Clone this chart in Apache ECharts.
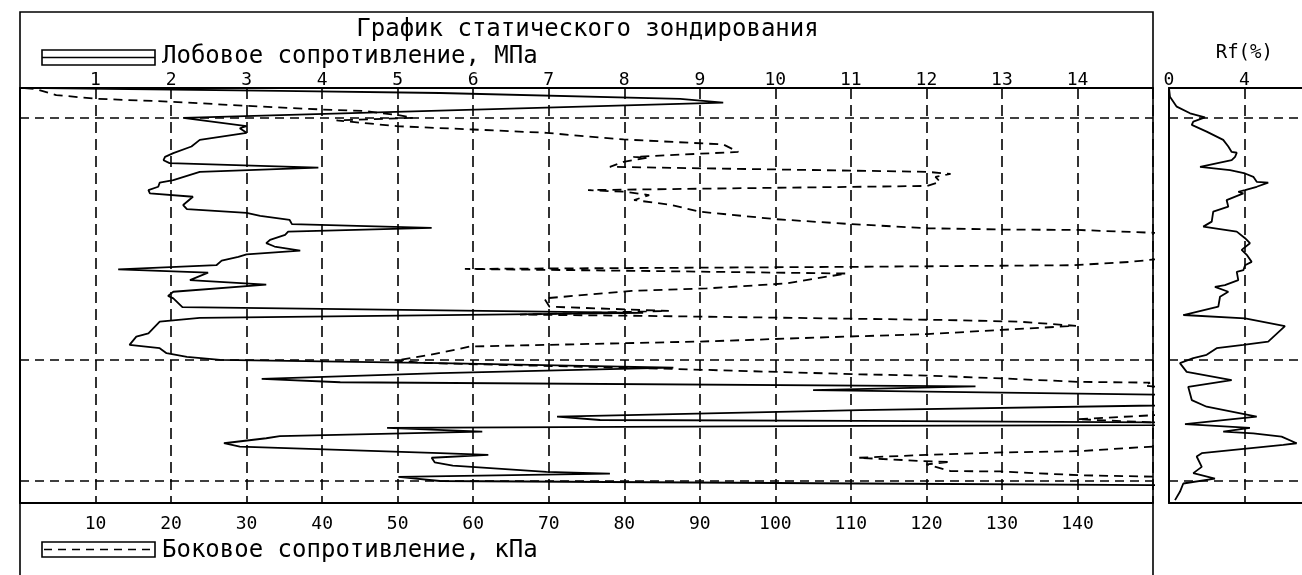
<!DOCTYPE html>
<html>
<head>
<meta charset="utf-8">
<title>График статического зондирования</title>
<script src="https://cdn.jsdelivr.net/npm/echarts@6/dist/echarts.min.js"></script>
<style>
  html, body { margin: 0; padding: 0; background: #fff; }
  #chart { width: 1302px; height: 575px; }
</style>
</head>
<body>
<div id="chart"></div>
<script>
// Cone resistance qc (MPa) against depth (m)
const qcDepth = [0.00, 0.07, 0.12, 0.26, 0.35, 0.72, 0.92, 0.97, 1.08, 1.25, 1.41, 1.57, 1.66, 1.74, 1.81, 1.92,
  2.02, 2.22, 2.28, 2.38, 2.46, 2.54, 2.62, 2.82, 2.92, 3.01, 3.08, 3.18, 3.28, 3.37, 3.46, 3.54, 3.66, 3.74,
  3.82, 3.92, 4.01, 4.07, 4.16, 4.27, 4.37, 4.45, 4.63, 4.74, 4.91, 5.01, 5.07, 5.28, 5.42, 5.54, 5.63, 5.91,
  5.99, 6.19, 6.27, 6.39, 6.48, 6.55, 6.63, 6.74, 6.87, 7.01, 7.09, 7.19, 7.28, 7.51, 7.76, 7.92, 8.00, 8.02,
  8.10, 8.14, 8.19, 8.28, 8.39, 8.44, 8.56, 8.64, 8.80, 8.84, 8.91, 9.02, 9.10, 9.25, 9.29, 9.37, 9.47, 9.53,
  9.57, 9.93];
const qcMPa = [0.3, 3.44, 5.56, 8.74, 9.31, 2.16, 3.00, 2.91, 3.00, 2.38, 2.27, 2.03, 1.92, 1.90, 1.98, 3.95,
  2.38, 2.03, 1.85, 1.83, 1.70, 1.72, 2.29, 2.16, 2.21, 3.00, 3.18, 3.57, 3.60, 5.45, 3.55, 3.51, 3.31, 3.26,
  3.37, 3.71, 3.00, 2.89, 2.67, 2.60, 1.30, 2.49, 2.25, 3.26, 2.03, 1.96, 2.03, 2.15, 8.25, 2.38, 1.85, 1.70,
  1.54, 1.45, 1.85, 1.94, 2.21, 2.65, 5.56, 8.65, 5.56, 3.20, 4.24, 12.65, 10.50, 20.0, 11.12, 7.11, 7.68, 11.12,
  20.0, 11.12, 4.86, 6.12, 3.44, 3.26, 2.70, 2.91, 5.56, 6.20, 5.45, 5.49, 5.73, 6.97, 7.81, 5.01, 5.56, 11.12,
  15.0, 24.0];

// Sleeve friction fs (kPa) against depth (m)
const fsDepth = [0.00, 0.03, 0.17, 0.26, 0.33, 0.43, 0.53, 0.55, 0.66, 0.72, 0.78, 0.92, 1.00, 1.08, 1.14, 1.24,
  1.36, 1.54, 1.66, 1.68, 1.78, 1.90, 2.02, 2.07, 2.14, 2.26, 2.36, 2.46, 2.50, 2.58, 2.70, 2.82, 2.98, 3.16,
  3.28, 3.38, 3.41, 3.42, 3.66, 4.19, 4.27, 4.31, 4.36, 4.41, 4.47, 4.71, 4.83, 4.89, 5.07, 5.27, 5.37, 5.46,
  5.49, 5.54, 5.59, 5.63, 5.73, 5.83, 5.93, 5.99, 6.11, 6.15, 6.23, 6.31, 6.43, 6.57, 6.63, 6.77, 6.90, 6.93,
  7.00, 7.08, 7.10, 7.17, 7.65, 7.98, 8.30, 8.75, 8.78, 8.84, 8.91, 8.99, 9.01, 9.07, 9.23, 9.24, 9.33, 9.37,
  9.93];
const fsKPa = [0.6, 2.2, 4.8, 10.1, 20.0, 30.0, 41.4, 45.4, 50.3, 52.0, 41.9, 49.9, 60.0, 69.7, 73.3, 79.9,
  93.1, 95.1, 81.2, 83.0, 79.9, 78.1, 120.1, 123.2, 121.2, 121.8, 120.1, 75.2, 80.0, 83.3, 81.3, 86.3, 90.0, 100.0,
  110.1, 120.1, 130.0, 140.0, 175, 147.0, 139.4, 109.5, 58.9, 83.4, 109.4, 101.4, 90.9, 81.0, 69.4, 70.1, 85.9, 66.2,
  82.1, 102.6, 122.4, 132.2, 139.8, 129.9, 120.1, 109.5, 90.0, 79.9, 59.5, 57.6, 54.3, 49.6, 54.2, 86.5, 111.2, 120.1,
  130.2, 140.1, 149.6, 148.9, 175, 140.0, 180, 140.2, 130.2, 120.1, 111.0, 119.6, 123.2, 120.0, 123.2, 129.8, 140.1, 151,
  175];

// Friction ratio Rf (%) against depth (m)
const rfDepth = [0.00, 0.21, 0.45, 0.61, 0.71, 0.81, 0.89, 1.05, 1.25, 1.41, 1.54, 1.56, 1.66, 1.74, 1.90, 1.98,
  2.06, 2.14, 2.26, 2.28, 2.38, 2.46, 2.50, 2.54, 2.70, 2.86, 2.98, 3.22, 3.34, 3.46, 3.62, 3.74, 3.90, 4.02,
  4.19, 4.27, 4.39, 4.43, 4.63, 4.75, 4.79, 4.91, 5.03, 5.27, 5.47, 5.55, 5.74, 6.11, 6.19, 6.27, 6.43, 6.51,
  6.63, 6.84, 7.04, 7.20, 7.52, 7.68, 7.92, 8.10, 8.19, 8.28, 8.32, 8.40, 8.56, 8.60, 8.80, 8.88, 9.13, 9.28,
  9.41, 9.53, 9.73, 9.93];
const rfPercent = [0.00, 0.05, 0.41, 1.12, 1.91, 1.29, 1.21, 2.00, 2.88, 3.15, 3.33, 3.60, 3.51, 3.33, 1.65, 3.24,
  4.04, 4.48, 4.66, 5.27, 4.66, 4.04, 3.68, 3.95, 3.06, 3.15, 2.35, 2.27, 1.82, 3.60, 4.04, 4.30, 3.86, 4.13,
  4.39, 4.04, 3.95, 3.60, 3.68, 2.97, 2.44, 3.15, 2.71, 2.62, 0.76, 4.04, 6.16, 5.27, 3.95, 2.53, 2.00, 1.29,
  0.58, 0.94, 3.33, 1.02, 1.21, 2.00, 4.66, 0.85, 4.30, 2.88, 4.48, 5.98, 6.78, 6.07, 1.74, 1.47, 1.74, 1.29,
  2.44, 0.76, 0.58, 0.32];

// Layer boundaries (m)
const layerBounds = [0.72, 6.55, 9.47];

// Tick labels
const qcTicks = [1, 2, 3, 4, 5, 6, 7, 8, 9, 10, 11, 12, 13, 14];
const fsTicks = [10, 20, 30, 40, 50, 60, 70, 80, 90, 100, 110, 120, 130, 140];
const rfTicks = [0, 4];

const titleText = 'График статического зондирования';
const qcLabel = 'Лобовое сопротивление, МПа';
const fsLabel = 'Боковое сопротивление, кПа';
const rfLabel = 'Rf(%)';

const INK = '#000';
const FONT = '"DejaVu Sans Mono", monospace';
const toPairs = (depths, values) => values.map((v, i) => [v, depths[i]]);

const hiddenDepthAxis = (gridIndex) => ({
  gridIndex, type: 'value', inverse: true, min: 0, max: 10,
  axisLine: { show: true, onZero: false, lineStyle: { color: INK, width: 2 } },
  axisTick: { show: false }, axisLabel: { show: false }, splitLine: { show: false }
});

const tickLabel = (list, margin) => ({
  show: true, margin, color: INK, fontFamily: FONT, fontSize: 18,
  verticalAlign: 'middle',
  formatter: (v) => (list.includes(v) ? String(v) : '')
});

const boundaryLines = {
  silent: true,
  symbol: ['none', 'none'],
  label: { show: false },
  emphasis: { disabled: true },
  lineStyle: { color: INK, width: 1.6, type: [9, 6] },
  data: layerBounds.map((d) => ({ yAxis: d }))
};

const chart = echarts.init(document.getElementById('chart'), null, { renderer: 'canvas' });

chart.setOption({
  animation: false,
  backgroundColor: '#fff',
  grid: [
    { left: 20, top: 88, width: 1133, height: 415, outerBoundsMode: 'none', containLabel: false },
    // the friction-ratio panel runs on past the right edge of the page
    { left: 1169, top: 88, width: 150.6, height: 415, outerBoundsMode: 'none', containLabel: false }
  ],
  xAxis: [
    {
      gridIndex: 0, type: 'value', position: 'top', min: 0, max: 15, interval: 1,
      axisLine: { show: true, onZero: false, lineStyle: { color: INK, width: 2 } },
      axisTick: { show: false },
      axisLabel: tickLabel(qcTicks, 8),
      splitLine: { show: true, lineStyle: { color: INK, width: 1.6, type: [11, 6] } }
    },
    {
      gridIndex: 0, type: 'value', position: 'bottom', min: 0, max: 150, interval: 10,
      axisLine: { show: true, onZero: false, lineStyle: { color: INK, width: 2 } },
      axisTick: { show: false },
      axisLabel: tickLabel(fsTicks, 21),
      splitLine: { show: false }
    },
    {
      gridIndex: 1, type: 'value', position: 'top', min: 0, max: 8, interval: 4,
      name: rfLabel, nameLocation: 'middle', nameGap: 35,
      nameTextStyle: { color: INK, fontFamily: FONT, fontSize: 19, verticalAlign: 'middle' },
      axisLine: { show: true, onZero: false, lineStyle: { color: INK, width: 2 } },
      axisTick: { show: false },
      axisLabel: tickLabel(rfTicks, 8),
      splitLine: { show: true, lineStyle: { color: INK, width: 1.6, type: [11, 6] } }
    },
    {
      gridIndex: 1, type: 'value', position: 'bottom', min: 0, max: 8, interval: 4,
      axisLine: { show: true, onZero: false, lineStyle: { color: INK, width: 2 } },
      axisTick: { show: false }, axisLabel: { show: false }, splitLine: { show: false }
    }
  ],
  yAxis: [hiddenDepthAxis(0), hiddenDepthAxis(1)],
  series: [
    {
      name: qcLabel, type: 'line', xAxisIndex: 0, yAxisIndex: 0,
      data: toPairs(qcDepth, qcMPa),
      symbol: 'none', clip: true,
      lineStyle: { color: INK, width: 1.8 },
      markLine: boundaryLines
    },
    {
      name: fsLabel, type: 'line', xAxisIndex: 1, yAxisIndex: 0,
      data: toPairs(fsDepth, fsKPa),
      symbol: 'none', clip: true,
      lineStyle: { color: INK, width: 1.8, type: [9, 6] }
    },
    {
      name: rfLabel, type: 'line', xAxisIndex: 2, yAxisIndex: 1,
      data: toPairs(rfDepth, rfPercent),
      symbol: 'none', clip: true,
      lineStyle: { color: INK, width: 1.8 },
      markLine: boundaryLines
    }
  ],
  graphic: [
    // outer frame of the main panel
    { type: 'rect', silent: true, shape: { x: 20, y: 12, width: 1133, height: 700 },
      style: { fill: 'none', stroke: INK, lineWidth: 1.6 } },
    // heading
    { type: 'text', silent: true, x: 587.5, y: 29.5,
      style: { text: titleText, fill: INK, fontFamily: FONT, fontSize: 24, align: 'center', verticalAlign: 'middle' } },
    // key for cone resistance (solid)
    { type: 'rect', silent: true, shape: { x: 42, y: 50, width: 113, height: 15 },
      style: { fill: 'none', stroke: INK, lineWidth: 1.6 } },
    { type: 'line', silent: true, shape: { x1: 42, y1: 57.5, x2: 155, y2: 57.5 },
      style: { stroke: INK, lineWidth: 1.6 } },
    { type: 'text', silent: true, x: 162, y: 57,
      style: { text: qcLabel, fill: INK, fontFamily: FONT, fontSize: 24, align: 'left', verticalAlign: 'middle' } },
    // key for sleeve friction (dashed)
    { type: 'rect', silent: true, shape: { x: 42, y: 542, width: 113, height: 15 },
      style: { fill: 'none', stroke: INK, lineWidth: 1.6 } },
    { type: 'line', silent: true, shape: { x1: 44, y1: 549.5, x2: 155, y2: 549.5 },
      style: { stroke: INK, lineWidth: 1.6, lineDash: [8, 6] } },
    { type: 'text', silent: true, x: 162, y: 550.5,
      style: { text: fsLabel, fill: INK, fontFamily: FONT, fontSize: 24, align: 'left', verticalAlign: 'middle' } }
  ]
});
</script>
</body>
</html>
